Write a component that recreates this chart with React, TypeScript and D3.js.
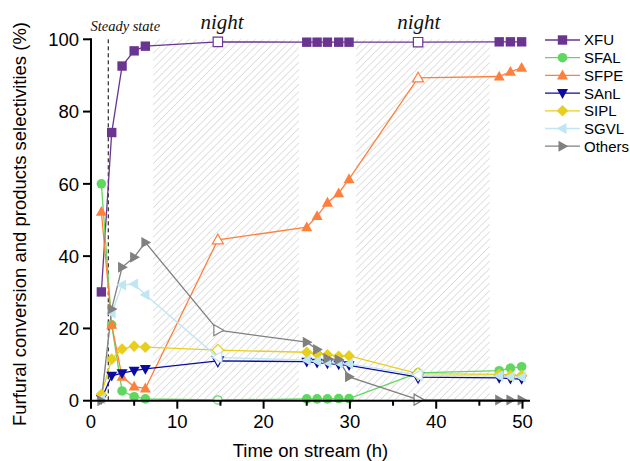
import React from "react";
import * as d3 from "d3";

// Time on stream (h) for every sample
const times = [1.2, 2.4, 3.6, 5.0, 6.3, 14.7, 25.0, 26.2, 27.4, 28.7, 29.9, 37.9, 47.3, 48.6, 49.9];
// Samples taken overnight are drawn hollow
const openIdx = [5, 11];

const xfu = [30.1, 74.2, 92.6, 96.8, 98.1, 99.3, 99.2, 99.2, 99.2, 99.2, 99.2, 99.2, 99.3, 99.3, 99.3];
const sfal = [60.0, 21.0, 2.7, 1.1, 0.5, 0.2, 0.5, 0.5, 0.5, 0.6, 0.6, 7.7, 8.3, 9.0, 9.4];
const sfpe = [52.3, 21.0, 6.6, 3.9, 3.4, 44.5, 48.0, 51.1, 54.8, 57.4, 61.3, 89.3, 89.7, 91.0, 92.1];
const sanl = [0.5, 6.9, 7.6, 8.3, 8.8, 11.0, 10.8, 10.5, 10.3, 10.0, 9.8, 6.5, 6.3, 6.1, 6.0];
const sipl = [1.8, 11.5, 14.3, 15.1, 14.8, 14.0, 13.4, 13.0, 12.7, 12.3, 12.4, 7.5, 7.3, 7.0, 7.0];
const sgvl = [0.5, 24.2, 32.0, 32.3, 29.3, 12.0, 11.2, 10.9, 10.6, 10.4, 10.2, 7.1, 6.8, 6.6, 6.5];
const others = [0.0, 25.4, 36.9, 39.7, 43.8, 19.5, 16.2, 14.2, 11.7, 11.3, 6.6, 0.3, 0.2, 0.2, 0.2];

const seriesNames = ["XFU", "SFAL", "SFPE", "SAnL", "SIPL", "SGVL", "Others"];
const seriesValues = [xfu, sfal, sfpe, sanl, sipl, sgvl, others];
const seriesColors = ["#6a3590", "#5fd85f", "#ff7f3c", "#0b0ba0", "#e8cf1c", "#bfe6f2", "#808080"];
const seriesShapes = ["square", "circle", "triangle", "triangleDown", "diamond", "triangleLeft", "triangleRight"];

// Night shutdown periods (h)
const nightSpans = [
  [7.2, 24.1],
  [30.7, 46.2],
];
const steadyStateTime = 2.0;

const xTicks = [0, 10, 20, 30, 40, 50];
const xMinorTicks = [5, 15, 25, 35, 45];
const yTicks = [0, 20, 40, 60, 80, 100];

const FONT = "Liberation Sans, Arial, sans-serif";
const SERIF = "Liberation Serif, Times New Roman, serif";

function markerPath(shape: string, cx: number, cy: number): string {
  const s = 4.7;
  switch (shape) {
    case "square":
      return `M${cx - s},${cy - s}H${cx + s}V${cy + s}H${cx - s}Z`;
    case "triangle":
      return `M${cx},${cy - 5.8}L${cx + 5.5},${cy + 4}L${cx - 5.5},${cy + 4}Z`;
    case "triangleDown":
      return `M${cx},${cy + 5.8}L${cx + 5.5},${cy - 4}L${cx - 5.5},${cy - 4}Z`;
    case "triangleLeft":
      return `M${cx - 5.8},${cy}L${cx + 4},${cy - 5.5}L${cx + 4},${cy + 5.5}Z`;
    case "triangleRight":
      return `M${cx + 5.8},${cy}L${cx - 4},${cy - 5.5}L${cx - 4},${cy + 5.5}Z`;
    case "diamond":
      return `M${cx},${cy - 5.8}L${cx + 5.8},${cy}L${cx},${cy + 5.8}L${cx - 5.8},${cy}Z`;
    default:
      return "";
  }
}

function Marker({ shape, cx, cy, color, open }: { shape: string; cx: number; cy: number; color: string; open: boolean }) {
  const fill = open ? "#ffffff" : color;
  if (shape === "circle") {
    return <circle cx={cx} cy={cy} r={open ? 4.2 : 4.8} fill={fill} stroke={color} strokeWidth={open ? 1.2 : 0} />;
  }
  return <path d={markerPath(shape, cx, cy)} fill={fill} stroke={color} strokeWidth={open ? 1.2 : 0} />;
}

export default function App() {
  const width = 630;
  const height = 461;
  const x = d3.scaleLinear().domain([0, 50]).range([91, 522.5]);
  const y = d3.scaleLinear().domain([0, 100]).range([400.7, 39.3]);
  const xEnd = 530;

  const line = d3
    .line<[number, number]>()
    .x((d) => x(d[0]))
    .y((d) => y(d[1]));

  return (
    <svg
      width={width}
      height={height}
      style={{ position: "absolute", left: 0, top: 0, background: "#fff" }}
      fontFamily={FONT}
    >
      <defs>
        <pattern id="nightHatch" width={5.2} height={5.2} patternUnits="userSpaceOnUse" patternTransform="rotate(45)">
          <line x1={0} y1={0} x2={0} y2={5.2} stroke="#cccccc" strokeWidth={1.2} />
        </pattern>
      </defs>

      {/* night periods */}
      {nightSpans.map(([a, b], i) => (
        <rect key={i} x={x(a)} y={y(100)} width={x(b) - x(a)} height={y(0) - y(100)} fill="url(#nightHatch)" />
      ))}
      {nightSpans.map(([a, b], i) => (
        <text
          key={"n" + i}
          x={(x(a) + x(b)) / 2 - 4}
          y={29}
          fontFamily={SERIF}
          fontStyle="italic"
          fontSize={21}
          textAnchor="middle"
          fill="#111"
        >
          night
        </text>
      ))}

      {/* steady state marker */}
      <line
        x1={x(steadyStateTime)}
        x2={x(steadyStateTime)}
        y1={y(100)}
        y2={y(0)}
        stroke="#000"
        strokeWidth={1}
        strokeDasharray="4,3"
      />
      <text x={x(steadyStateTime) + 17} y={31} fontFamily={SERIF} fontStyle="italic" fontSize={14.5} textAnchor="middle" fill="#111">
        Steady state
      </text>

      {/* series lines */}
      {seriesValues.map((vals, si) => (
        <path
          key={"l" + si}
          d={line(times.map((t, i) => [t, vals[i]] as [number, number])) || ""}
          fill="none"
          stroke={seriesColors[si]}
          strokeWidth={1.3}
        />
      ))}

      {/* series markers */}
      {seriesValues.map((vals, si) => (
        <g key={"m" + si}>
          {times.map((t, i) => (
            <Marker
              key={i}
              shape={seriesShapes[si]}
              cx={x(t)}
              cy={y(vals[i])}
              color={seriesColors[si]}
              open={openIdx.includes(i)}
            />
          ))}
        </g>
      ))}

      {/* axes */}
      <line x1={x(0)} x2={x(0)} y1={y(100) - 1} y2={y(0) + 1} stroke="#000" strokeWidth={2} />
      <line x1={x(0) - 1} x2={xEnd} y1={y(0)} y2={y(0)} stroke="#000" strokeWidth={2} />
      {yTicks.map((t) => (
        <g key={"yt" + t}>
          <line x1={x(0) - 8} x2={x(0)} y1={y(t)} y2={y(t)} stroke="#000" strokeWidth={2} />
          <text x={x(0) - 12} y={y(t)} dy="0.36em" textAnchor="end" fontSize={18.5} fill="#000">
            {t}
          </text>
        </g>
      ))}
      {xTicks.map((t) => (
        <g key={"xt" + t}>
          <line x1={x(t)} x2={x(t)} y1={y(0)} y2={y(0) + 8} stroke="#000" strokeWidth={2} />
          <text x={x(t)} y={428} textAnchor="middle" fontSize={18.5} fill="#000">
            {t}
          </text>
        </g>
      ))}
      {xMinorTicks.map((t) => (
        <line key={"xm" + t} x1={x(t)} x2={x(t)} y1={y(0)} y2={y(0) + 5} stroke="#000" strokeWidth={2} />
      ))}

      <text x={(x(0) + xEnd) / 2} y={457} textAnchor="middle" fontSize={18.5} fill="#000">
        Time on stream (h)
      </text>
      <text
        transform={`translate(26, ${(y(0) + y(100)) / 2 + 4}) rotate(-90)`}
        textAnchor="middle"
        fontSize={18.5}
        fill="#000"
      >
        Furfural conversion and products selectivities (%)
      </text>

      {/* legend */}
      {seriesNames.map((name, i) => {
        const ly = 40 + i * 17.7;
        return (
          <g key={"lg" + i}>
            <line x1={545} x2={580} y1={ly} y2={ly} stroke={seriesColors[i]} strokeWidth={1.3} />
            <Marker shape={seriesShapes[i]} cx={562.5} cy={ly} color={seriesColors[i]} open={false} />
            <text x={584} y={ly} dy="0.36em" fontSize={15} fill="#000">
              {name}
            </text>
          </g>
        );
      })}
    </svg>
  );
}
